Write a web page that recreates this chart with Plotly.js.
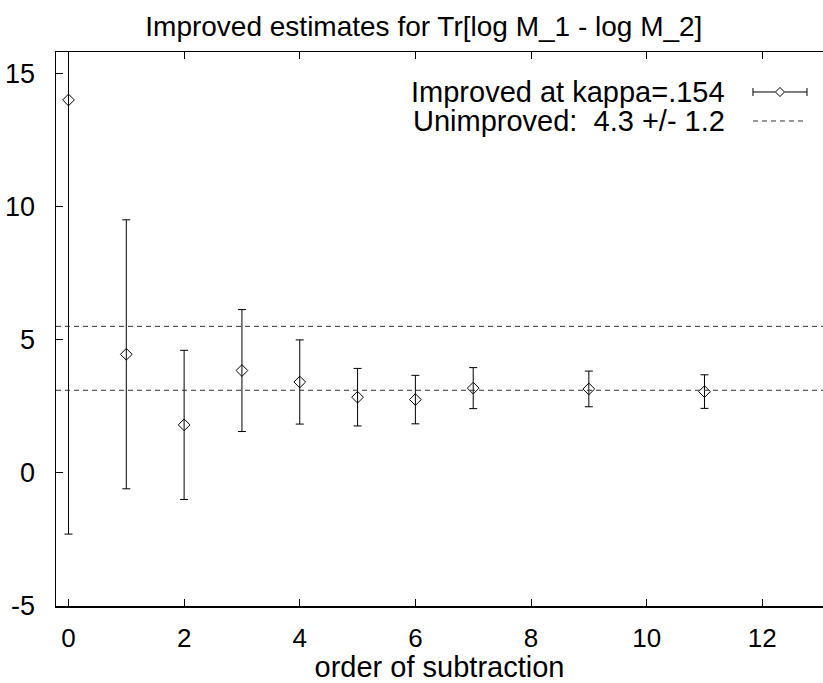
<!DOCTYPE html>
<html>
<head>
<meta charset="utf-8">
<script src="https://cdn.plot.ly/plotly-3.0.1.min.js"></script>
<style>html,body{margin:0;padding:0;background:#fff;}#chart{width:823px;height:683px;}</style>
</head>
<body>
<div id="chart"></div>
<script>
// ---- data ----
const order = [0, 1, 2, 3, 4, 5, 6, 7, 9, 11];
const estimate = [14.0, 4.45, 1.8, 3.84, 3.41, 2.84, 2.75, 3.18, 3.15, 3.05];
const errorBar = [16.3, 5.05, 2.8, 2.29, 1.58, 1.08, 0.91, 0.77, 0.67, 0.63];
const unimprovedMean = 4.3;
const unimprovedErr = 1.2;
const yTickVals = [-5, 0, 5, 10, 15];
const yTickText = ["-5", "0", "5", "10", "15"];
const xTickVals = [0, 2, 4, 6, 8, 10, 12];
const labelImproved = "Improved at kappa=.154";
const labelUnimproved = "Unimproved:  4.3 +/- 1.2";

const FONT = "Liberation Sans, Arial, sans-serif";

const trace = {
  x: order, y: estimate, type: "scatter", mode: "markers",
  marker: {symbol: "diamond-open", size: 9, color: "#000", line: {width: 1, color: "#000"}},
  error_y: {type: "data", array: errorBar, symmetric: true, color: "#000", thickness: 1, width: 4},
  showlegend: false, hoverinfo: "x+y"
};

// legend geometry (paper coords)
const lx0 = 0.9087, lx1 = 0.9791, lxc = (lx0 + lx1) / 2;
const ly1 = 0.9278, ly2 = 0.8755;
const capH = 0.0072, dX = 0.0059, dY = 0.0081;

const shapes = [
  {type: "line", xref: "paper", yref: "y", x0: 0, x1: 1, y0: unimprovedMean + unimprovedErr, y1: unimprovedMean + unimprovedErr,
   line: {color: "#333", width: 1, dash: "5px,4px"}},
  {type: "line", xref: "paper", yref: "y", x0: 0, x1: 1, y0: unimprovedMean - unimprovedErr, y1: unimprovedMean - unimprovedErr,
   line: {color: "#333", width: 1, dash: "5px,4px"}},
  // legend sample: improved (horizontal error bar with diamond)
  {type: "line", xref: "paper", yref: "paper", x0: lx0, x1: lxc - dX, y0: ly1, y1: ly1, line: {color: "#000", width: 1}},
  {type: "line", xref: "paper", yref: "paper", x0: lxc + dX, x1: lx1, y0: ly1, y1: ly1, line: {color: "#000", width: 1}},
  {type: "line", xref: "paper", yref: "paper", x0: lx0, x1: lx0, y0: ly1 - capH, y1: ly1 + capH, line: {color: "#000", width: 1}},
  {type: "line", xref: "paper", yref: "paper", x0: lx1, x1: lx1, y0: ly1 - capH, y1: ly1 + capH, line: {color: "#000", width: 1}},
  {type: "path", xref: "paper", yref: "paper",
   path: `M ${lxc - dX} ${ly1} L ${lxc} ${ly1 + dY} L ${lxc + dX} ${ly1} L ${lxc} ${ly1 - dY} Z`,
   line: {color: "#000", width: 1}, fillcolor: "rgba(0,0,0,0)"},
  // legend sample: unimproved dashed
  {type: "line", xref: "paper", yref: "paper", x0: lx0, x1: lx1, y0: ly2, y1: ly2, line: {color: "#333", width: 1, dash: "5px,4px"}}
];

const annotations = [
  {xref: "paper", yref: "paper", x: 0.8748, y: ly1, text: labelImproved, showarrow: false,
   xanchor: "right", yanchor: "middle", font: {family: FONT, size: 29, color: "#000"}},
  {xref: "paper", yref: "paper", x: 0.8748, y: ly2, text: labelUnimproved, showarrow: false,
   xanchor: "right", yanchor: "middle", font: {family: FONT, size: 29, color: "#000"}}
];

const layout = {
  width: 823, height: 683,
  margin: {l: 56, r: 0, t: 52, b: 77},
  paper_bgcolor: "#fff", plot_bgcolor: "#fff",
  font: {family: FONT, size: 27, color: "#000"},
  title: {text: "Improved estimates for Tr[log M_1 - log M_2]", font: {family: FONT, size: 28, color: "#000"},
          x: 0.515, xanchor: "center", y: 0.962, yanchor: "middle"},
  xaxis: {range: [-0.216, 13.05], tickvals: xTickVals, ticks: "inside", ticklen: 7, tickwidth: 1, tickcolor: "#000",
          showline: true, linecolor: "#000", linewidth: 1.5, mirror: "ticks", showgrid: false, zeroline: false,
          ticklabelstandoff: 8, tickfont: {family: FONT, size: 26, color: "#000"},
          title: {text: "order of subtraction", font: {family: FONT, size: 29, color: "#000"}, standoff: 2}},
  yaxis: {range: [-5, 15.8], tickvals: yTickVals, ticktext: yTickText, ticks: "inside", ticklen: 7, tickwidth: 1, tickcolor: "#000",
          showline: true, linecolor: "#000", linewidth: 1.5, mirror: false, showgrid: false, zeroline: false,
          ticklabelstandoff: 14, tickfont: {family: FONT, size: 27, color: "#000"}},
  shapes: shapes,
  annotations: annotations,
  showlegend: false
};

Plotly.newPlot("chart", [trace], layout, {displayModeBar: false, staticPlot: true});
</script>
</body>
</html>
